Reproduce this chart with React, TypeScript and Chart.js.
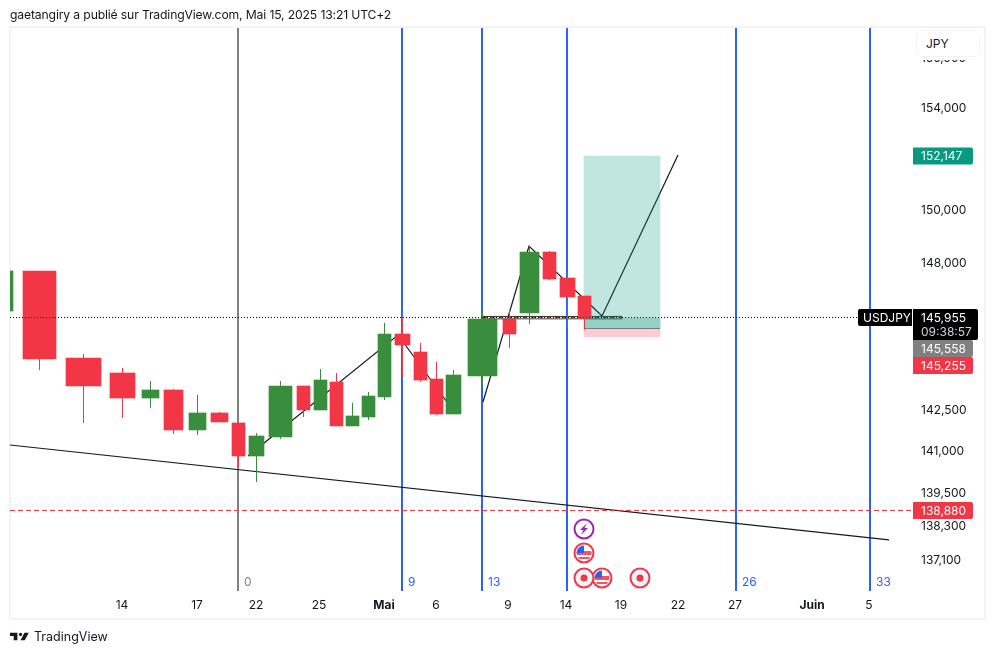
import React, { useEffect, useRef } from "react";
import { Chart, registerables } from "chart.js";

Chart.register(...registerables);

const FONT = "Inter, 'Noto Sans', sans-serif";

// Candles (range-style, so every candle has its own width on the session axis)
const centers = [8, 39.5, 83.5, 122.5, 150.5, 173.5, 197.5, 219.5, 238.5, 256.5, 280.5, 303.5, 320.5, 336.5, 352.5, 368.5, 384.5, 402.5, 420.5, 436.5, 453.5, 482.5, 509.5, 529.5, 549.5, 567.5, 584.5];
const widths = [10, 33, 35, 25, 17, 19, 17, 17, 13, 15, 23, 13, 13, 13, 13, 13, 13, 15, 13, 13, 15, 29, 13, 19, 13, 15, 13];
const opens = [146129, 147641, 144375, 143819, 142897, 143192, 141728, 142348, 141983, 140782, 141472, 143340, 142458, 143486, 141874, 142201, 142934, 145268, 144597, 143597, 142311, 143708, 145830, 146055, 148364, 147375, 146694];
const closes = [147641, 144337, 143340, 142897, 143192, 141728, 142348, 142019, 140782, 141509, 143340, 142458, 143560, 141874, 142238, 142971, 145268, 144858, 143560, 142311, 143745, 145830, 145268, 148364, 147336, 146657, 145867];
const highs = [147641, 147641, 144523, 144004, 143523, 143229, 143007, 142385, 141983, 141618, 143523, 143340, 143967, 143819, 142715, 143118, 145681, 145905, 144932, 144226, 143929, 146092, 146129, 148593, 148402, 147603, 146694];
const lows = [146129, 143929, 141983, 142165, 142530, 141581, 141545, 142019, 140385, 139843, 141400, 142201, 142458, 141874, 141874, 142093, 142824, 143671, 143486, 142274, 142311, 143377, 144746, 145643, 147300, 145530, 145418];

// Drawings
const fibX = [238, 402, 482, 567, 736, 870];
const fibLabels = ["0", "9", "13", "", "26", "33"];
const trendX = [10, 889];
const trendY = [141181, 137775];
const zigzagX = [248, 398, 447, null, 483, 529, 602, 678];
const zigzagY = [140782, 145231, 142750, null, 142750, 148593, 145943, 152111];
const boxX = [584, 660];
const target = 152072;
const entry = 145474;
const stop = 145156;
const overlapTop = 145867;
const rangeX = [483, 622];
const rangeY = [145940, 145828];
const lastPrice = 145885;
const alertPrice = 138824;

// Axes
const yTicks = [156000, 154000, 150000, 148000, 142500, 141000, 139500, 138300, 137100];
const xTicks = [122, 197, 256, 319, 384, 436, 508, 566, 621, 678, 735, 812, 869];
const xLabels = ["14", "17", "22", "25", "Mai", "6", "9", "14", "19", "22", "27", "Juin", "5"];
const xBold = ["Mai", "Juin"];

// Price tags
const tagValues = [152072, 145885, 145474, 145268, 138824];
const tagTexts = ["152,147", "145,955", "145,558", "145,255", "138,880"];
const tagColors = ["#089981", "#000000", "#808080", "#f23645", "#f23645"];

const GREEN = "#388e3c";
const RED = "#f23645";
const BLUE = "#2962ff";

function line(points: any[], color: string, width: number, dash: number[] = []) {
  return {
    type: "line",
    data: points,
    borderColor: color,
    borderWidth: width,
    borderDash: dash,
    pointRadius: 0,
    tension: 0,
    fill: false,
    spanGaps: false,
  };
}

function bar(x: number, thickness: number, from: number, to: number, color: string, border = "transparent", bw = 0) {
  return {
    type: "bar",
    stack: "c",
    data: [{ x, y: [from, to] }],
    backgroundColor: color,
    borderColor: border,
    borderWidth: bw,
    borderSkipped: false,
    barThickness: thickness,
    barPercentage: 1,
    categoryPercentage: 1,
  };
}

function wicks(green: boolean) {
  const pts: any[] = [];
  centers.forEach((c, i) => {
    if (closes[i] >= opens[i] === green && i > 0) {
      pts.push({ x: c, y: highs[i] }, { x: c, y: lows[i] }, { x: c, y: null });
    }
  });
  return pts;
}

const drawings = {
  id: "drawings",
  afterDraw(chart: any) {
    const { ctx, scales, chartArea } = chart;
    const bottom = chartArea.bottom;
    ctx.save();
    ctx.font = `12px ${FONT}`;
    ctx.textBaseline = "middle";
    ctx.textAlign = "left";
    fibX.forEach((v, i) => {
      ctx.fillStyle = i === 0 ? "#808080" : BLUE;
      ctx.fillText(fibLabels[i], scales.x.getPixelForValue(v) + 6, bottom - 9);
    });

    // price tags, pushed down when they would overlap
    let prevBottom = -1;
    const left = chartArea.right + 1;
    tagValues.forEach((v, i) => {
      const isLast = i === 1;
      const h = isLast ? 31 : 17;
      let top = scales.y.getPixelForValue(v) - 8.5;
      if (top < prevBottom) top = prevBottom;
      const w = isLast ? 65 : 60;
      ctx.fillStyle = tagColors[i];
      ctx.beginPath();
      ctx.roundRect(left, top, w, h, [0, 2, 2, 0]);
      ctx.fill();
      ctx.fillStyle = "#ffffff";
      ctx.fillText(tagTexts[i], left + 8, top + 9);
      if (isLast) {
        ctx.fillStyle = "#d1d4dc";
        ctx.fillText("09:38:57", left + 8, top + 23);
        ctx.fillStyle = "#000000";
        ctx.beginPath();
        ctx.roundRect(left - 55, top, 54, 17, [2, 0, 0, 2]);
        ctx.fill();
        ctx.fillStyle = "#ffffff";
        ctx.fillText("USDJPY", left - 50, top + 9);
      }
      prevBottom = top + h;
    });

    // event markers along the bottom of the pane
    const ring = (cx: number, cy: number, color: string, fill: string) => {
      ctx.beginPath();
      ctx.arc(cx, cy, 9.5, 0, Math.PI * 2);
      ctx.fillStyle = fill;
      ctx.fill();
      ctx.strokeStyle = color;
      ctx.lineWidth = 2;
      ctx.stroke();
    };
    const flag = (cx: number, cy: number) => {
      ring(cx, cy, RED, "#ffffff");
      ctx.save();
      ctx.beginPath();
      ctx.arc(cx, cy, 7.5, 0, Math.PI * 2);
      ctx.clip();
      ctx.fillStyle = "#f7525f";
      ctx.fillRect(cx - 8, cy - 2, 16, 4);
      ctx.fillRect(cx - 8, cy + 4, 16, 2);
      ctx.fillStyle = "#2962ff";
      ctx.fillRect(cx - 8, cy - 8, 8, 8);
      ctx.restore();
    };
    const dot = (cx: number, cy: number) => {
      ring(cx, cy, RED, "#f0f3fa");
      ctx.beginPath();
      ctx.arc(cx, cy, 3.5, 0, Math.PI * 2);
      ctx.fillStyle = RED;
      ctx.fill();
    };
    const bx = scales.x.getPixelForValue(boxX[0]);
    ring(bx, bottom - 62, "#9c27b0", "#ffffff");
    ctx.beginPath();
    [[3, -6], [-4, 1], [-0.5, 1], [-3, 6], [4, -1], [0.5, -1]].forEach(([dx, dy], i) => {
      if (i === 0) ctx.moveTo(bx + dx, bottom - 62 + dy);
      else ctx.lineTo(bx + dx, bottom - 62 + dy);
    });
    ctx.closePath();
    ctx.fillStyle = "#9c27b0";
    ctx.fill();
    flag(bx, bottom - 38);
    flag(bx + 18, bottom - 13);
    dot(bx, bottom - 13);
    dot(bx + 56, bottom - 13);
    ctx.restore();
  },
};

export default function App() {
  const ref = useRef<HTMLCanvasElement>(null);
  useEffect(() => {
    const layers: any[] = [];
    fibX.forEach((v, i) =>
      layers.push(line([{ x: v, y: 157160 }, { x: v, y: 135979 }], i === 0 ? "#808080" : BLUE, 2))
    );
    layers.push(line(trendX.map((x, i) => ({ x, y: trendY[i] })), "#131722", 1.2));
    layers.push(line(zigzagX.map((x, i) => (x === null ? { x: 440, y: null } : { x, y: zigzagY[i] })), "#131722", 1.2));
    const rcx = (rangeX[0] + rangeX[1]) / 2;
    layers.push(bar(rcx, rangeX[1] - rangeX[0], rangeY[0], rangeY[1], "#fdf8d8", "#000000", 1));
    layers.push(line(rangeX.map((x) => ({ x, y: (rangeY[0] + rangeY[1]) / 2 })), "#9c27b0", 1, [4, 4]));
    const bcx = (boxX[0] + boxX[1]) / 2;
    const bw = boxX[1] - boxX[0];
    layers.push(bar(bcx, bw, entry, target, "rgba(8,153,129,0.25)"));
    layers.push(bar(bcx, bw, entry, overlapTop, "rgba(8,153,129,0.25)"));
    layers.push(bar(bcx, bw, stop, entry, "rgba(242,54,69,0.25)"));
    layers.push(line(boxX.map((x) => ({ x, y: entry })), "#787b86", 1));
    layers.push(line(wicks(true), GREEN, 1));
    layers.push(line(wicks(false), RED, 1));
    centers.forEach((c, i) =>
      layers.push(bar(c, widths[i], opens[i], closes[i], closes[i] >= opens[i] ? GREEN : RED))
    );
    layers.push(line([{ x: 10, y: lastPrice }, { x: 912, y: lastPrice }], "#000000", 1, [1, 2]));
    layers.push(line([{ x: 10, y: alertPrice }, { x: 912, y: alertPrice }], RED, 1, [5, 3]));
    layers.forEach((d, i) => (d.order = layers.length - i));

    const chart = new Chart(ref.current as HTMLCanvasElement, {
      type: "bar",
      data: { datasets: layers },
      plugins: [drawings],
      options: {
        animation: false,
        responsive: false,
        devicePixelRatio: 1,
        events: [],
        layout: { padding: { left: 10, top: 28, right: 10, bottom: 36 } },
        plugins: { legend: { display: false }, tooltip: { enabled: false } },
        scales: {
          x: {
            type: "linear",
            min: 10,
            max: 912,
            offset: false,
            grid: { display: false, offset: false, drawTicks: false },
            border: { display: false },
            afterBuildTicks: (s: any) => {
              s.ticks = xTicks.map((value) => ({ value }));
            },
            afterFit: (s: any) => {
              s.height = 27;
            },
            ticks: {
              autoSkip: false,
              maxRotation: 0,
              padding: 7,
              color: "#131722",
              font: (c: any) => ({
                family: FONT,
                size: 12,
                weight: xBold.includes(xLabels[xTicks.indexOf(c.tick?.value)]) ? "bold" : "normal",
              }),
              callback: (_: any, i: number) => xLabels[i],
            },
          },
          y: {
            type: "logarithmic",
            position: "right",
            stacked: false,
            min: 135979,
            max: 157160,
            grid: { display: false, drawTicks: false },
            border: { display: false },
            afterBuildTicks: (s: any) => {
              s.ticks = yTicks.map((value) => ({ value }));
            },
            afterFit: (s: any) => {
              s.width = 72;
            },
            ticks: {
              autoSkip: false,
              padding: 9,
              color: "#131722",
              font: { family: FONT, size: 12, lineHeight: "3px" },
              callback: (v: any) => ["", Number(v).toLocaleString("en-US")],
            },
          },
        },
      },
    } as any);
    return () => chart.destroy();
  }, []);

  return (
    <div style={{ position: "fixed", left: 0, top: 0, width: 994, height: 654, background: "#fff", overflow: "hidden", fontFamily: FONT, color: "#131722" }}>
      <div style={{ position: "absolute", left: 9, top: 26, width: 973, height: 590, border: "2px solid #f2f3f5" }} />
      <canvas ref={ref} width={994} height={654} style={{ position: "absolute", left: 0, top: 0, display: "block" }} />
      <div style={{ position: "absolute", left: 10, top: 7, fontSize: 12.2, letterSpacing: "-0.15px", lineHeight: "16px", whiteSpace: "nowrap" }}>
        gaetangiry a publié sur TradingView.com, Mai 15, 2025 13:21 UTC+2
      </div>
      <div style={{ position: "absolute", left: 916, top: 56, width: 64, height: 4, background: "#fff" }} />
      <div style={{ position: "absolute", left: 916, top: 30, width: 64, height: 27, boxSizing: "border-box", background: "#fff", border: "1px solid #f0f3fa", borderRadius: 6, fontSize: 12, lineHeight: "25px", paddingLeft: 9 }}>
        JPY
      </div>
      <svg viewBox="0 6 36 14" width="19" height="11" style={{ position: "absolute", left: 10, top: 631 }}>
        <path d="M14 6H0v6h7v8h7V6Z" fill="#131722" />
        <path d="M28 20h-8l7.5-14h8L28 20Z" fill="#131722" />
        <circle cx="20" cy="9" r="3" fill="#131722" />
      </svg>
      <div style={{ position: "absolute", left: 34, top: 629, fontSize: 12.5, lineHeight: "16px", whiteSpace: "nowrap" }}>TradingView</div>
    </div>
  );
}
